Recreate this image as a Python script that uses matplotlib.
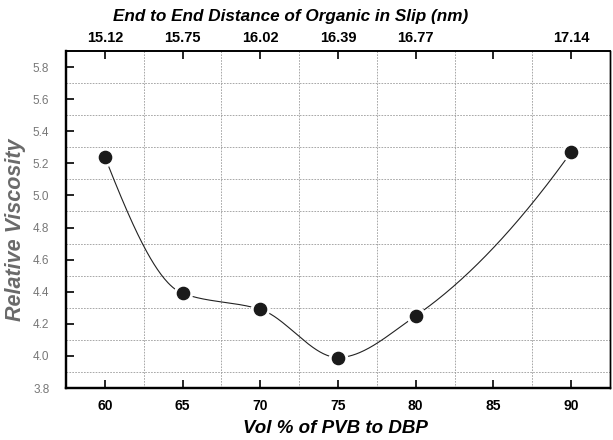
import numpy as np
import matplotlib
matplotlib.use("Agg")
import matplotlib.pyplot as plt
from matplotlib.ticker import FixedLocator

vol_pct = [60, 65, 70, 75, 80, 90]
viscosity = [5.24, 4.39, 4.29, 3.99, 4.25, 5.27]
bottom_ticks = [60, 65, 70, 75, 80, 85, 90]
top_ticks = [60, 65, 70, 75, 80, 85, 90]
top_labels = ["15.12", "15.75", "16.02", "16.39", "16.77", "", "17.14"]


def pchip(x, y, xs):
    x = np.asarray(x, float); y = np.asarray(y, float)
    h = np.diff(x); d = np.diff(y) / h
    n = len(x); m = np.zeros(n)
    for k in range(1, n - 1):
        if d[k - 1] * d[k] > 0:
            w1 = 2 * h[k] + h[k - 1]; w2 = h[k] + 2 * h[k - 1]
            m[k] = (w1 + w2) / (w1 / d[k - 1] + w2 / d[k])
    def end(h0, h1, d0, d1):
        mm = ((2 * h0 + h1) * d0 - h0 * d1) / (h0 + h1)
        if np.sign(mm) != np.sign(d0):
            mm = 0
        elif np.sign(d0) != np.sign(d1) and abs(mm) > abs(3 * d0):
            mm = 3 * d0
        return mm
    m[0] = end(h[0], h[1], d[0], d[1])
    m[-1] = end(h[-1], h[-2], d[-1], d[-2])
    idx = np.clip(np.searchsorted(x, xs) - 1, 0, n - 2)
    t = (xs - x[idx]) / h[idx]
    h00 = 2 * t**3 - 3 * t**2 + 1; h10 = t**3 - 2 * t**2 + t
    h01 = -2 * t**3 + 3 * t**2; h11 = t**3 - t**2
    return h00 * y[idx] + h10 * h[idx] * m[idx] + h01 * y[idx + 1] + h11 * h[idx] * m[idx + 1]


W, H = 613, 440
fig = plt.figure(figsize=(W / 100, H / 100), dpi=100)
ax = fig.add_axes([66 / W, 1 - 388 / H, (610 - 66) / W, (388 - 51) / H])

xs = np.linspace(vol_pct[0], vol_pct[-1], 400)
ax.plot(xs, pchip(vol_pct, viscosity, xs), color="#222222", lw=0.8, zorder=3)
ax.plot(vol_pct, viscosity, "o", ms=13, color="white", mec="white", zorder=4)
ax.plot(vol_pct, viscosity, "o", ms=8.8, color="#1a1a1a", mec="#1a1a1a", zorder=5)

ax.set_xlim(57.5, 92.5)
ax.set_ylim(3.8, 5.9)
ax.xaxis.set_major_locator(FixedLocator(bottom_ticks))
ax.xaxis.set_minor_locator(FixedLocator([62.5, 67.5, 72.5, 77.5, 82.5, 87.5]))
yt = np.round(np.arange(3.8, 5.81, 0.2), 1)
ax.yaxis.set_major_locator(FixedLocator(yt))
ax.yaxis.set_minor_locator(FixedLocator(np.round(np.arange(3.9, 5.8, 0.2), 1)))
ax.grid(which="minor", color="#9a9a9a", ls=(0, (2, 1.5)), lw=0.6)
ax.grid(which="major", visible=False)

fam = ["Liberation Sans", "DejaVu Sans"]
ax.set_xticklabels([str(v) for v in bottom_ticks], fontsize=10, fontweight="bold", family=fam)
ax.set_yticklabels([f"{v:.1f}" for v in yt], fontsize=8.5, color="#777777", family=fam)
ax.tick_params(axis="x", which="major", direction="in", length=6, width=1.2, pad=8, bottom=True, top=False)
ax.tick_params(axis="y", which="major", direction="in", length=6, width=1.2, pad=12, left=True, right=False)
ax.tick_params(which="minor", length=0)

fig.text(335 / W, 1 - 428 / H, "Vol % of PVB to DBP", fontsize=13.5, fontweight="bold",
         style="italic", family=fam, ha="center", va="center")
fig.text(16 / W, 1 - 230 / H, "Relative Viscosity", fontsize=15.5, fontweight="bold",
         style="italic", family=fam, color="#6a6a6a", ha="center", va="center", rotation=90)
fig.text(291 / W, 1 - 17 / H, "End to End Distance of Organic in Slip (nm)", fontsize=12.3,
         fontweight="bold", style="italic", family=fam, ha="center", va="center")

ax2 = ax.twiny()
ax2.set_xlim(ax.get_xlim())
ax2.xaxis.set_major_locator(FixedLocator(top_ticks))
ax2.set_xticklabels(top_labels, fontsize=10.5, fontweight="bold", family=fam)
ax2.tick_params(axis="x", direction="in", length=6, width=1.2, pad=4)

for a in (ax, ax2):
    a.spines["left"].set_linewidth(1.6)
    a.spines["bottom"].set_linewidth(1.6)
    a.spines["top"].set_linewidth(1.2)
    a.spines["right"].set_linewidth(1.0)

fig.savefig("out.png", dpi=100)
